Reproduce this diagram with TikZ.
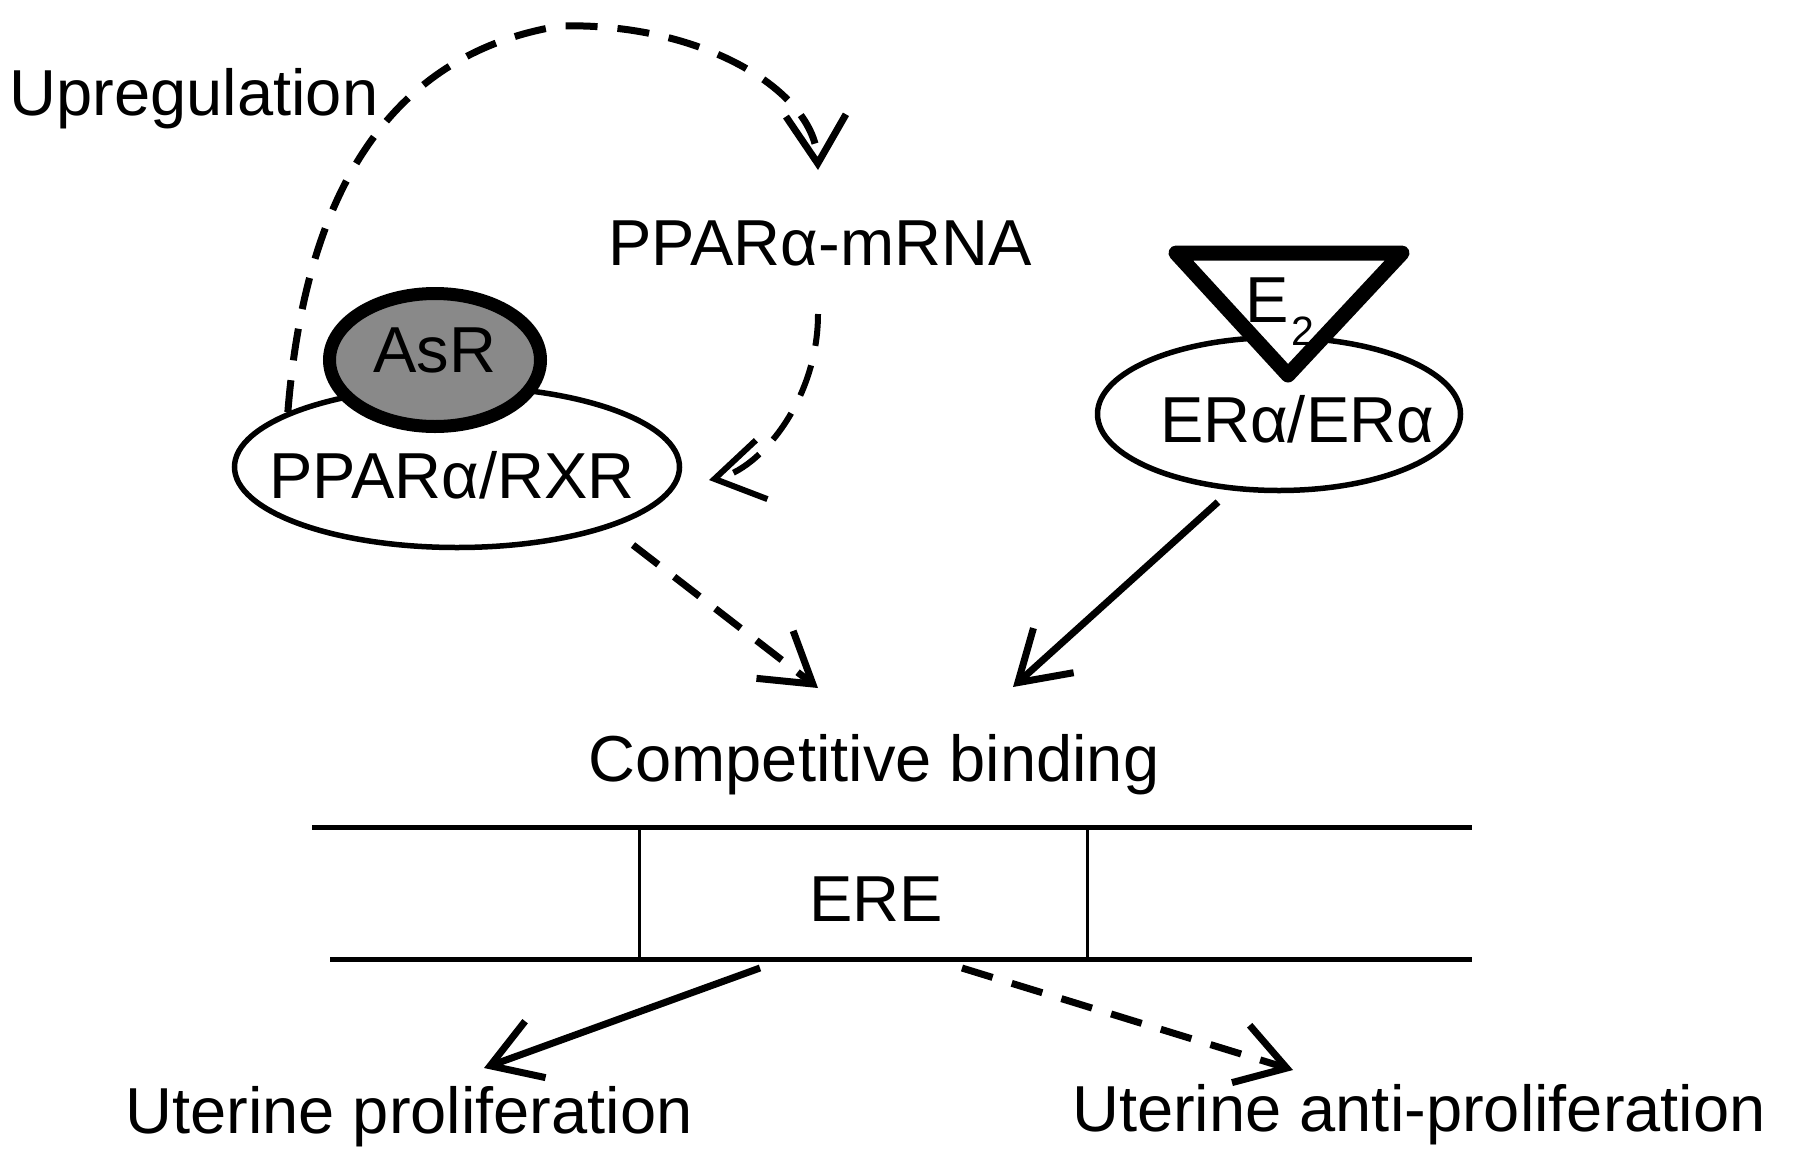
\documentclass[tikz,border=0pt]{standalone}
\usepackage{fontspec}
\setmainfont{Liberation Sans}
\usetikzlibrary{arrows.meta,shapes.geometric}
\definecolor{asrgray}{RGB}{137,137,137}
\begin{document}
\begin{tikzpicture}[x=1pt,y=-1pt,
  lbl/.style={inner sep=0pt, anchor=base, font=\fontsize{65}{78}\selectfont},
  conn/.style={line width=7pt, -{Straight Barb[length=48pt,width=60pt]}},
  dashconn/.style={conn, dash pattern=on 32pt off 20pt},
  oval/.style={ellipse, draw, line width=5.5pt, fill=white, inner sep=0pt},
]
\fill[white] (0,0) rectangle (1795,1162);
\useasboundingbox (0,0) rectangle (1795,1162);

% PPAR / AsR complex
\node[oval, minimum width=445pt, minimum height=161pt] (ppar) at (457,467) {};
\node[ellipse, draw, line width=13pt, fill=asrgray, inner sep=0pt,
      minimum width=211pt, minimum height=133pt] (asr) at (435,360) {};
\node[lbl] (asrt) at (435,372) {AsR};
\node[lbl] (ppart) at (452,498) {PPARα/RXR};

% ER / E2 complex
\node[oval, minimum width=363pt, minimum height=153pt] (er) at (1279,414) {};
\coordinate (tA) at (1176,253);
\coordinate (tB) at (1402,253);
\coordinate (tC) at (1288,375);
\draw[line width=15pt, line join=round, fill=white] (tA) -- (tB) -- (tC) -- cycle;
\node[lbl, anchor=base west] (e2) at (1245,322) {E\hspace{3pt}\raisebox{-23pt}{\fontsize{41}{42}\selectfont 2}};
\node[lbl] (ert) at (1297,442) {ERα/ERα};

% texts
\node[lbl] (up) at (194,115) {Upregulation};
\node[lbl] (mrna) at (820,265) {PPARα-mRNA};
\node[lbl] (comp) at (874,781) {Competitive binding};
\node[lbl] (ere) at (876,921) {ERE};
\node[lbl] (prolif) at (409,1133) {Uterine proliferation};
\node[lbl] (anti) at (1419,1131) {Uterine anti-proliferation};

% DNA
\coordinate (dnaTL) at (312,827);
\coordinate (dnaTR) at (1472,827);
\coordinate (dnaBL) at (330,959);
\coordinate (dnaBR) at (1472,959);
\draw[line width=5pt] (dnaTL) -- (dnaTR);
\draw[line width=5pt] (dnaBL) -- (dnaBR);
\draw[line width=3pt] (639,827) -- (639,959);
\draw[line width=3pt] (1087,827) -- (1087,959);

% connectors
\coordinate (upEnd) at (818,170);
\draw[dashconn] (ppar.162) .. controls (300,260) and (350,60) .. (560,26)
      .. controls (700,22) and (815,90) .. (upEnd);

\coordinate (mStart) at (818,314);
\coordinate (pEnd) at (709,480);
\draw[dashconn, line width=6pt] (mStart) .. controls (818,400) and (760,470) .. (pEnd);

\coordinate (pOut) at (633,545);
\coordinate (cInL) at (818,688);
\draw[dashconn] (pOut) -- (cInL);

\coordinate (eOut) at (1218,502);
\coordinate (cInR) at (1013,687);
\draw[conn] (eOut) -- (cInR);

\coordinate (ereL) at (760,968);
\coordinate (prolIn) at (484,1068);
\draw[conn] (ereL) -- (prolIn);

\coordinate (ereR) at (962,968);
\coordinate (antiIn) at (1293,1070);
\draw[dashconn] (ereR) -- (antiIn);
\end{tikzpicture}
\end{document}
